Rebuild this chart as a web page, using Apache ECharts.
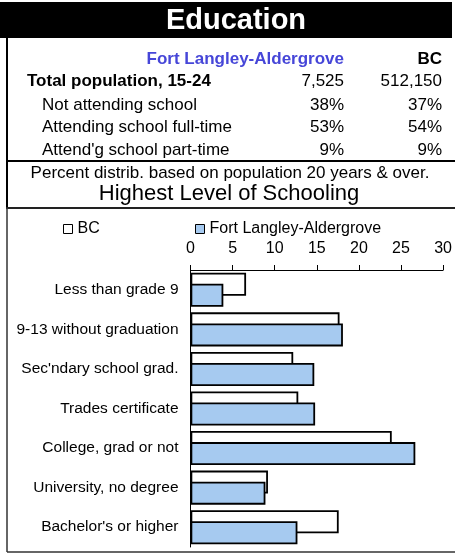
<!DOCTYPE html>
<html>
<head>
<meta charset="utf-8">
<script src="https://cdn.jsdelivr.net/npm/echarts@6/dist/echarts.min.js"></script>
<style>
  html, body { margin: 0; padding: 0; background: #fff; }
  #chart { width: 455px; height: 554px; }
</style>
</head>
<body>
<div id="chart"></div>
<script>
// summary table at the top
const areaName = "Fort Langley-Aldergrove";
const rowLabels = ["Not attending school", "Attending school full-time", "Attend'g school part-time"];
const areaRow = ["38%", "53%", "9%"];
const bcRow = ["37%", "54%", "9%"];
const totalArea = "7,525";
const totalBC = "512,150";

// highest level of schooling, percent
const categories = [
  "Less than grade 9",
  "9-13 without graduation",
  "Sec'ndary school grad.",
  "Trades certificate",
  "College, grad or not",
  "University, no degree",
  "Bachelor's or higher"
];
const bcValues = [6.6, 17.7, 12.2, 12.8, 23.9, 9.2, 17.6];
const areaValues = [3.9, 18.1, 14.7, 14.8, 26.7, 8.9, 12.7];

const FONT = "Liberation Sans, Arial, sans-serif";
const BLUE = "#a6caf0";

function txt(text, x, y, size, align, opts) {
  opts = opts || {};
  return {
    type: "text",
    z: 10,
    style: {
      text: text,
      x: x,
      y: y,
      align: align,
      verticalAlign: "middle",
      fontFamily: FONT,
      fontSize: size,
      fontWeight: opts.bold ? "bold" : "normal",
      fill: opts.color || "#000"
    }
  };
}
function line(x1, y1, x2, y2, w, color) {
  return {
    type: "line",
    z: 10,
    shape: { x1: x1, y1: y1, x2: x2, y2: y2 },
    style: { stroke: color || "#000", lineWidth: w }
  };
}

const graphics = [
  { type: "rect", z: 5, shape: { x: 0, y: 2, width: 452, height: 36 }, style: { fill: "#000" } },
  txt("Education", 236, 21, 29, "center", { bold: true, color: "#fff" }),
  txt(areaName, 344, 59, 17, "right", { bold: true, color: "#4646d8" }),
  txt("BC", 442, 59, 17, "right", { bold: true }),
  txt("Total population, 15-24", 27, 81, 17, "left", { bold: true }),
  txt(totalArea, 344, 81, 17, "right"),
  txt(totalBC, 442, 81, 17, "right"),
  line(7, 38, 7, 208, 2),
  line(7, 161, 455, 161, 2),
  txt("Percent distrib. based on population 20 years & over.", 230, 173, 17, "center"),
  txt("Highest Level of Schooling", 229, 194, 22, "center"),
  line(6, 208, 455, 208, 2, "#222"),
  line(7, 208, 7, 552, 1.5, "#333"),
  line(7, 552, 455, 552, 1.5, "#333")
];
rowLabels.forEach(function (r, i) {
  const y = 105 + i * 22.5;
  graphics.push(txt(r, 42, y, 17, "left"));
  graphics.push(txt(areaRow[i], 344, y, 17, "right"));
  graphics.push(txt(bcRow[i], 442, y, 17, "right"));
});

const chart = echarts.init(document.getElementById("chart"));
chart.setOption({
  animation: false,
  textStyle: { fontFamily: FONT },
  graphic: graphics,
  legend: [
    {
      data: ["BC"],
      left: 58,
      top: 216,
      icon: "rect",
      itemWidth: 9,
      itemHeight: 9,
      textStyle: { fontSize: 16, color: "#000", fontFamily: FONT },
      itemStyle: { borderColor: "#000", borderWidth: 1 }
    },
    {
      data: [areaName],
      left: 190,
      top: 216,
      icon: "rect",
      itemWidth: 9,
      itemHeight: 9,
      textStyle: { fontSize: 16, color: "#000", fontFamily: FONT },
      itemStyle: { borderColor: "#000", borderWidth: 1 }
    }
  ],
  grid: { left: 190.5, top: 270, width: 254, height: 277, containLabel: false },
  xAxis: {
    type: "value",
    position: "top",
    min: 0,
    max: 30,
    interval: 5,
    splitLine: { show: false },
    axisLine: { show: true, lineStyle: { color: "#000", width: 1 } },
    axisTick: { show: true, inside: false, length: 5, lineStyle: { color: "#000" } },
    axisLabel: { color: "#000", fontSize: 16, margin: 13, fontFamily: FONT }
  },
  yAxis: {
    type: "category",
    inverse: true,
    data: categories,
    axisLine: { show: true, lineStyle: { color: "#000", width: 1 } },
    axisTick: { show: false },
    axisLabel: { color: "#000", fontSize: 15.5, margin: 12, fontFamily: FONT }
  },
  series: [
    {
      name: "BC",
      type: "bar",
      data: bcValues,
      barWidth: 23,
      barGap: "-52%",
      itemStyle: { color: "#fff", borderColor: "#000", borderWidth: 1.8 }
    },
    {
      name: areaName,
      type: "bar",
      data: areaValues,
      barWidth: 23,
      itemStyle: { color: BLUE, borderColor: "#000", borderWidth: 1.8 }
    }
  ]
});
</script>
</body>
</html>
